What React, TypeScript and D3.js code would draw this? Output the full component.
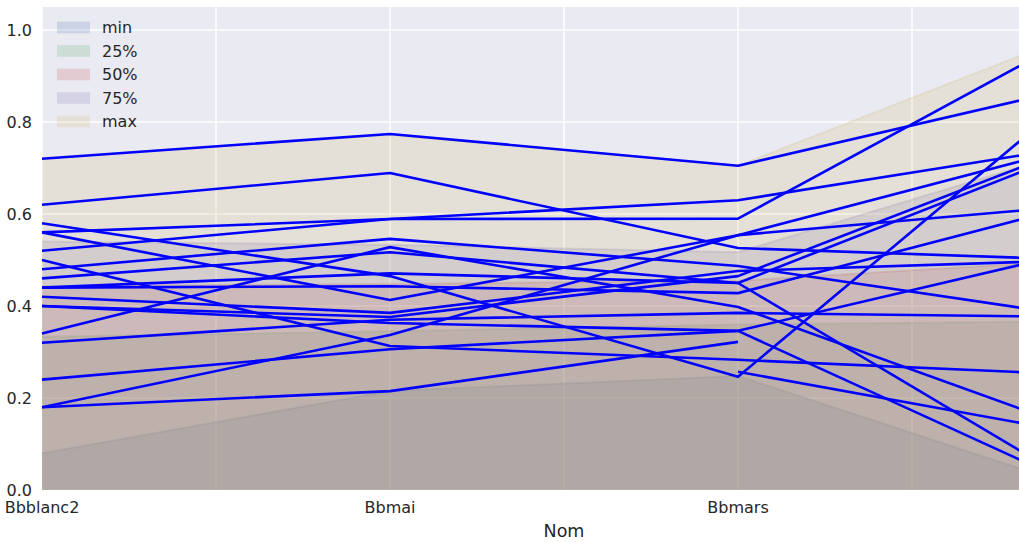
import React from "react";
import * as d3 from "d3";

// Categories on the x axis (a 4th position lies beyond the cropped right edge; its label is not visible)
const categories = ["Bbblanc2", "Bbmai", "Bbmars", ""];

// Summary statistics drawn as overlapping areas
const statNames = ["min", "25%", "50%", "75%", "max"];
const statMin = [0.08, 0.215, 0.248, 0.0];
const statQ1 = [0.333, 0.345, 0.36, 0.367];
const statMedian = [0.443, 0.448, 0.455, 0.5];
const statQ3 = [0.54, 0.533, 0.517, 0.746];
const statMax = [0.722, 0.772, 0.705, 1.0];
const statColors = ["#4C72B0", "#55A868", "#C44E52", "#8172B2", "#CCB974"];

// Individual samples (null = missing value)
const s01 = [0.72, 0.774, 0.705, 0.88];
const s02 = [0.62, 0.689, 0.526, 0.5];
const s03 = [0.56, 0.589, 0.63, 0.75];
const s04 = [0.52, 0.589, 0.59, 1.0];
const s05 = [0.18, 0.337, 0.554, 0.752];
const s06 = [0.18, 0.215, 0.322, null];
const s07 = [null, null, 0.257, 0.12];
const s08 = [0.58, 0.465, 0.246, 0.879];
const s09 = [0.56, 0.413, 0.554, 0.62];
const s10 = [0.48, 0.546, 0.487, 0.375];
const s11 = [0.34, 0.528, 0.398, 0.125];
const s12 = [0.46, 0.517, 0.45, 0.747];
const s13 = [0.44, 0.471, 0.45, 0.0];
const s14 = [0.44, 0.443, 0.428, 0.625];
const s15 = [0.42, 0.385, 0.476, 0.5];
const s16 = [0.4, 0.376, 0.465, 0.756];
const s17 = [0.32, 0.37, 0.385, 0.376];
const s18 = [0.24, 0.306, 0.346, 0.523];
const s19 = [0.5, 0.313, 0.283, 0.25];
const s20 = [0.4, 0.363, 0.346, 0.0];

const yTicks = [0, 0.2, 0.4, 0.6, 0.8, 1.0];

export default function App() {
  const W = 1019;
  const H = 542;
  const left = 42;
  const right = 1086;
  const top = 7;
  const bottom = 490;

  const stats = [statMin, statQ1, statMedian, statQ3, statMax];
  const samples = [s01, s02, s03, s04, s05, s06, s07, s08, s09, s10, s11, s12, s13, s14, s15, s16, s17, s18, s19, s20];

  const x = d3.scaleLinear().domain([0, categories.length - 1]).range([left, right]);
  const y = d3.scaleLinear().domain([0, 1.05]).range([bottom, top]);

  const area = d3
    .area<number>()
    .x((_, i) => x(i))
    .y0(y(0))
    .y1((d) => y(d));
  const edge = d3
    .line<number>()
    .x((_, i) => x(i))
    .y((d) => y(d));
  const sampleLine = d3
    .line<number | null>()
    .defined((d) => d !== null)
    .x((_, i) => x(i))
    .y((d) => y(d as number));

  const xGrid = d3.range(0, categories.length - 1 + 0.001, 0.5);
  const font = "DejaVu Sans, sans-serif";
  const textColor = "#262626";
  const alpha = 0.2;

  return (
    <svg
      width={W}
      height={H}
      style={{ position: "fixed", left: 0, top: 0, background: "#ffffff" }}
      fontFamily={font}
    >
      <rect x={left} y={top} width={right - left} height={bottom - top} fill="#EAEAF2" />
      {yTicks.map((t) => (
        <line key={"gy" + t} x1={left} x2={right} y1={y(t)} y2={y(t)} stroke="#ffffff" strokeWidth={1.5} />
      ))}
      {xGrid.map((t) => (
        <line key={"gx" + t} x1={x(t)} x2={x(t)} y1={top} y2={bottom} stroke="#ffffff" strokeWidth={1.5} />
      ))}
      {stats.map((s, i) => (
        <g key={"st" + i}>
          <path d={area(s) as string} fill={statColors[i]} fillOpacity={alpha} />
          <path d={edge(s) as string} fill="none" stroke={statColors[i]} strokeOpacity={alpha} strokeWidth={2} />
        </g>
      ))}
      {samples.map((s, i) => (
        <path
          key={"s" + i}
          d={sampleLine(s) as string}
          fill="none"
          stroke="#0000FF"
          strokeWidth={2.6}
          strokeLinecap="butt"
          strokeLinejoin="round"
        />
      ))}
      {yTicks.map((t) => (
        <text key={"ty" + t} x={32} y={y(t) + 5.8} textAnchor="end" fontSize={16} fill={textColor}>
          {t.toFixed(1)}
        </text>
      ))}
      {categories.map((c, i) =>
        c ? (
          <text key={"tx" + i} x={x(i)} y={513} textAnchor="middle" fontSize={16} fill={textColor}>
            {c}
          </text>
        ) : null
      )}
      <text x={(left + right) / 2} y={537} textAnchor="middle" fontSize={17.5} fill={textColor}>
        Nom
      </text>
      {statNames.map((n, i) => (
        <g key={"lg" + n}>
          <rect x={57} y={21.7 + i * 23.5} width={33} height={11.6} fill={statColors[i]} fillOpacity={alpha} />
          <text x={102} y={33.2 + i * 23.5} fontSize={16} fill={textColor}>
            {n}
          </text>
        </g>
      ))}
    </svg>
  );
}
